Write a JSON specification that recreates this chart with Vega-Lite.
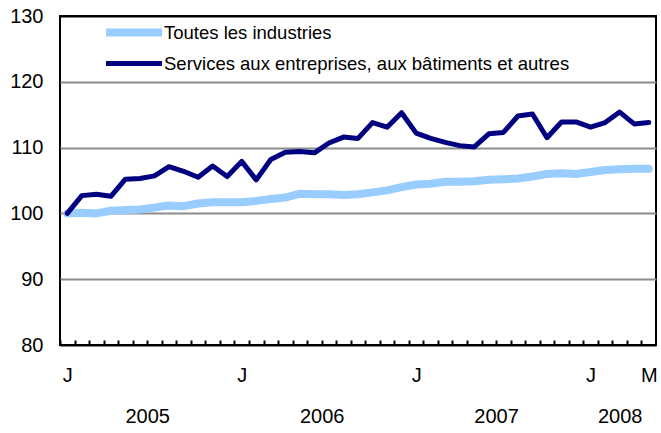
{
  "$schema": "https://vega.github.io/schema/vega-lite/v6.json",
  "width": 596,
  "height": 329,
  "autosize": {"type": "none"},
  "padding": {"left": 60, "top": 16, "right": 5, "bottom": 88},
  "background": "white",
  "config": {
    "view": {"stroke": "black", "strokeWidth": 2},
    "font": "Liberation Sans"
  },
  "data": {
    "values": [
      {"mois": "2005-01", "toutes": 100.0, "services": 100.0},
      {"mois": "2005-02", "toutes": 100.1, "services": 102.7},
      {"mois": "2005-03", "toutes": 100.0, "services": 102.9},
      {"mois": "2005-04", "toutes": 100.4, "services": 102.6},
      {"mois": "2005-05", "toutes": 100.5, "services": 105.2},
      {"mois": "2005-06", "toutes": 100.6, "services": 105.3},
      {"mois": "2005-07", "toutes": 100.9, "services": 105.7},
      {"mois": "2005-08", "toutes": 101.2, "services": 107.1},
      {"mois": "2005-09", "toutes": 101.1, "services": 106.4},
      {"mois": "2005-10", "toutes": 101.5, "services": 105.5},
      {"mois": "2005-11", "toutes": 101.7, "services": 107.2},
      {"mois": "2005-12", "toutes": 101.7, "services": 105.6},
      {"mois": "2006-01", "toutes": 101.7, "services": 107.9},
      {"mois": "2006-02", "toutes": 101.9, "services": 105.1},
      {"mois": "2006-03", "toutes": 102.2, "services": 108.2},
      {"mois": "2006-04", "toutes": 102.4, "services": 109.3},
      {"mois": "2006-05", "toutes": 103.0, "services": 109.4},
      {"mois": "2006-06", "toutes": 102.9, "services": 109.2},
      {"mois": "2006-07", "toutes": 102.9, "services": 110.7},
      {"mois": "2006-08", "toutes": 102.8, "services": 111.6},
      {"mois": "2006-09", "toutes": 102.9, "services": 111.4},
      {"mois": "2006-10", "toutes": 103.2, "services": 113.8},
      {"mois": "2006-11", "toutes": 103.5, "services": 113.1},
      {"mois": "2006-12", "toutes": 104.0, "services": 115.3},
      {"mois": "2007-01", "toutes": 104.4, "services": 112.2},
      {"mois": "2007-02", "toutes": 104.5, "services": 111.4},
      {"mois": "2007-03", "toutes": 104.8, "services": 110.8},
      {"mois": "2007-04", "toutes": 104.8, "services": 110.3},
      {"mois": "2007-05", "toutes": 104.9, "services": 110.1},
      {"mois": "2007-06", "toutes": 105.1, "services": 112.1},
      {"mois": "2007-07", "toutes": 105.2, "services": 112.3},
      {"mois": "2007-08", "toutes": 105.3, "services": 114.8},
      {"mois": "2007-09", "toutes": 105.6, "services": 115.1},
      {"mois": "2007-10", "toutes": 106.0, "services": 111.5},
      {"mois": "2007-11", "toutes": 106.1, "services": 113.9},
      {"mois": "2007-12", "toutes": 106.0, "services": 113.9},
      {"mois": "2008-01", "toutes": 106.3, "services": 113.1},
      {"mois": "2008-02", "toutes": 106.6, "services": 113.8},
      {"mois": "2008-03", "toutes": 106.7, "services": 115.4},
      {"mois": "2008-04", "toutes": 106.8, "services": 113.6},
      {"mois": "2008-05", "toutes": 106.8, "services": 113.8}
    ]
  },
  "transform": [
    {"fold": ["toutes", "services"], "as": ["serie", "indice"]}
  ],
  "mark": {"type": "line", "strokeJoin": "round", "strokeCap": "round"},
  "encoding": {
    "x": {
      "field": "mois",
      "type": "ordinal",
      "sort": null,
      "scale": {"type": "band", "paddingInner": 0, "paddingOuter": 0},
      "axis": {
        "title": null,
        "domain": false,
        "grid": false,
        "ticks": true,
        "tickOffset": -7.27,
        "tickSize": -5,
        "tickWidth": 2,
        "tickColor": "black",
        "labelAngle": 0,
        "labelAlign": "center",
        "labelBaseline": "top",
        "labelFontSize": 20,
        "labelColor": "black",
        "labelOverlap": false,
        "labelBound": false,
        "labelFlush": false,
        "labelExpr": "datum.value=='2005-07'?'2005':datum.value=='2006-07'?'2006':datum.value=='2007-07'?'2007':datum.value=='2008-03'?'2008':datum.value=='2008-05'?'M':slice(datum.value,5)=='01'?'J':''",
        "labelOffset": {"condition": {"test": "indexof(['2005-07','2006-07','2007-07'], datum.value) >= 0", "value": 0}, "value": 7.27},
        "labelPadding": {"condition": {"test": "indexof(['2005-07','2006-07','2007-07','2008-03'], datum.value) >= 0", "value": 66}, "value": 25}
      }
    },
    "y": {
      "field": "indice",
      "type": "quantitative",
      "scale": {"domain": [80, 130], "nice": false, "zero": false},
      "axis": {
        "title": null,
        "values": [80, 90, 100, 110, 120, 130],
        "domain": false,
        "ticks": false,
        "labelPadding": 17,
        "labelFontSize": 20,
        "labelColor": "black",
        "grid": true,
        "gridWidth": 2,
        "gridColor": {"condition": {"test": "datum.value==80||datum.value==130", "value": "black"}, "value": "#8c8c8c"}
      }
    },
    "color": {
      "field": "serie",
      "type": "nominal",
      "scale": {"domain": ["toutes", "services"], "range": ["#99ccff", "#000080"]},
      "legend": {
        "title": null,
        "orient": "none",
        "legendX": 42,
        "legendY": 6.5,
        "symbolType": "stroke",
        "symbolSize": 3136,
        "clipHeight": 20,
        "rowPadding": 11,
        "labelOffset": -2,
        "labelFontSize": 18.5,
        "labelColor": "black",
        "labelLimit": 600,
        "labelExpr": "datum.value=='toutes' ? 'Toutes les industries' : 'Services aux entreprises, aux bâtiments et autres'"
      }
    },
    "strokeWidth": {
      "field": "serie",
      "type": "nominal",
      "scale": {"domain": ["toutes", "services"], "range": [8, 5]}
    }
  }
}
